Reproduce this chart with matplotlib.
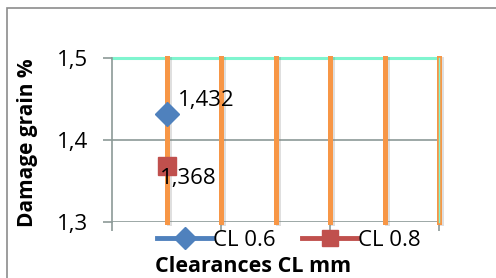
import matplotlib
matplotlib.use("Agg")
import matplotlib.pyplot as plt
import matplotlib.patheffects as pe
from matplotlib.patches import Rectangle

plt.rcParams["font.family"] = ["Open Sans", "DejaVu Sans"]

# data
series = ["CL 0.6", "CL 0.8"]
values = [1.432, 1.368]
labels = ["1,432", "1,368"]
colors = ["#4F81BD", "#C0504D"]
markers = ["D", "s"]
yticks = [1.3, 1.4, 1.5]
ytick_labels = ["1,3", "1,4", "1,5"]
orange_x = [0, 0.5, 1, 1.5, 2, 2.5]

fig = plt.figure(figsize=(4.96, 2.78), dpi=100)
fig.patches.append(Rectangle((7 / 496, -0.01), 1.0, 1 - 8 / 278 + 0.01,
                             transform=fig.transFigure, fill=False,
                             edgecolor="#8c8c8c", lw=1.2))
ax = fig.add_axes([112 / 496, 1 - 222 / 278, 327 / 496, 164 / 278])

ax.set_xlim(-0.5, 2.5)
ax.set_ylim(1.3, 1.5)

grid = "#8C9A97"
for y in [1.3, 1.4]:
    ax.axhline(y, color=grid, lw=1.2, zorder=1)
ax.axhline(1.5, color="#7FF5CF", lw=2.2, zorder=1, clip_on=False)

shadow = [pe.SimpleLineShadow(offset=(1.5, -1), alpha=0.25, shadow_color="gray"),
          pe.Normal()]
for x in orange_x:
    ax.axvline(x, color="#F79646", lw=3.6, zorder=2, path_effects=shadow,
               clip_on=False)
ax.axvline(2.5, color="#7FF5CF", lw=1, zorder=3, clip_on=False)

sizes = [12, 13.5]
for v, c, m, s, name in zip(values, colors, markers, sizes, series):
    ax.plot([0], [v], marker=m, color=c, ms=s, ls="-", lw=3.5, label=name,
            zorder=4)
ax.annotate(labels[0], (0, values[0]), xytext=(8, 9.5), textcoords="offset points",
            fontsize=16, va="center", ha="left")
ax.annotate(labels[1], (0, values[1]), xytext=(-4.5, -8.5), textcoords="offset points",
            fontsize=16, va="center", ha="left", zorder=5)

for sp in ["top", "right", "bottom"]:
    ax.spines[sp].set_visible(False)
ax.spines["left"].set_color(grid)
ax.spines["left"].set_linewidth(1.2)

ax.set_yticks(yticks)
ax.set_yticklabels(ytick_labels, fontsize=16)
ax.set_xticks([-0.5, 0.5, 1.5, 2.5])
ax.set_xticklabels([])
ax.tick_params(axis="both", color=grid, length=6.5, width=1.2)
ax.tick_params(axis="y", pad=11)

fig.legend(loc="center", bbox_to_anchor=(289 / 496, 1 - 240 / 278), ncol=2,
           frameon=False, fontsize=16, handlelength=2.45, columnspacing=1.2,
           handletextpad=0.05, borderpad=0, markerscale=0.9)
fig.text(253 / 496, 1 - 266 / 278, "Clearances CL mm", fontsize=15.5,
         fontweight="bold", ha="center", va="center")
fig.text(28 / 496, 1 - 143 / 278, "Damage grain %", fontsize=15,
         fontweight="bold", ha="center", va="center", rotation=90)

fig.savefig("out.png", dpi=100)
